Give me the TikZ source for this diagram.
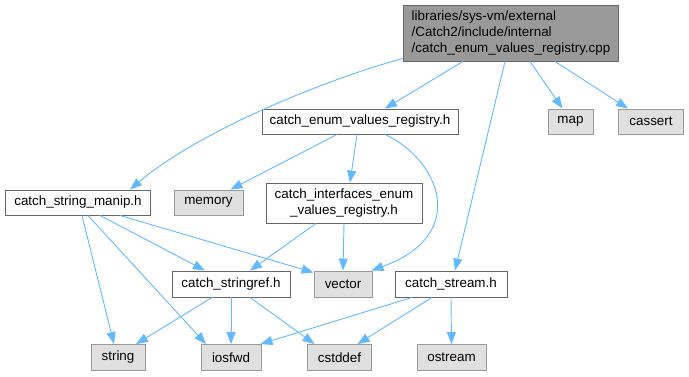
\documentclass[tikz,border=0pt]{standalone}
\usepackage{fontspec}
\setmainfont{Liberation Sans}
\usetikzlibrary{arrows.meta}
\definecolor{edgeblue}{HTML}{63B8FF}
\definecolor{sysfill}{HTML}{E0E0E0}
\definecolor{sysdraw}{HTML}{999999}
\definecolor{mainfill}{HTML}{999999}
\definecolor{maindraw}{HTML}{666666}
\tikzset{
  box/.style={rectangle, draw=maindraw, fill=white, line width=0.9pt, inner sep=0pt,
    minimum height=25pt, font=\fontsize{13.4}{15.8}\selectfont, text=black},
  sysbox/.style={box, draw=sysdraw, fill=sysfill},
  mainbox/.style={box, draw=maindraw, fill=mainfill, align=left},
  dep/.style={draw=edgeblue, line width=0.9pt, -{Triangle[length=12pt,width=9pt]}, fill=none}
}
\begin{document}
\begin{tikzpicture}[x=1pt,y=-1pt]
\useasboundingbox (0,0) rectangle (689,376);

% files
\node[mainbox, minimum width=215pt, minimum height=56pt] (main) at (511,33)
  {libraries/sys-vm/external\\/Catch2/include/internal\\/catch\_enum\_values\_registry.cpp};
\node[box, minimum width=196pt] (cerh) at (360,121.5) {catch\_enum\_values\_registry.h};
\node[sysbox, minimum width=45pt] (map) at (570.5,121.5) {map};
\node[sysbox, minimum width=65pt] (cassert) at (651,121.5) {cassert};
\node[box, minimum width=145pt] (manip) at (78,202.5) {catch\_string\_manip.h};
\node[sysbox, minimum width=69pt] (memory) at (208.5,202.5) {memory};
\node[box, minimum width=156pt, minimum height=40pt, align=center] (iface) at (344,203)
  {catch\_interfaces\_enum\\\_values\_registry.h};
\node[sysbox, minimum width=58pt, minimum height=26pt] (vector) at (343,284) {vector};
\node[box, minimum width=118pt, minimum height=26pt] (sref) at (231,284) {catch\_stringref.h};
\node[box, minimum width=112pt, minimum height=26pt] (stream) at (451,284) {catch\_stream.h};
\node[sysbox, minimum width=54pt, minimum height=26pt] (string) at (118,357.5) {string};
\node[sysbox, minimum width=60pt, minimum height=26pt] (iosfwd) at (231,357.5) {iosfwd};
\node[sysbox, minimum width=64pt, minimum height=26pt] (cstddef) at (339.5,357.5) {cstddef};
\node[sysbox, minimum width=69pt, minimum height=26pt] (ostream) at (451.5,357.5) {ostream};

% includes of the .cpp file
\draw[dep] ([yshift=3pt]main.south west) .. controls (330,78) and (200,130) .. ([xshift=52pt]manip.north);
\draw[dep] ([xshift=-48pt]main.south) -- ([xshift=25pt]cerh.north);
\draw[dep] ([xshift=-6pt]main.south) -- ([xshift=4pt]stream.north);
\draw[dep] ([xshift=19pt]main.south) -- ([xshift=-8pt]map.north);
\draw[dep] ([xshift=44pt]main.south) -- ([xshift=-23pt]cassert.north);

% catch_enum_values_registry.h
\draw[dep] ([xshift=-23pt]cerh.south) -- ([xshift=22pt]memory.north);
\draw[dep] ([xshift=-3pt]cerh.south) -- ([xshift=6pt]iface.north);
\draw[dep] ([xshift=25pt]cerh.south) .. controls (440,160) and (470,235) .. ([xshift=-1pt]vector.north east);

% catch_interfaces_enum_values_registry.h
\draw[dep] (iface.south) -- (vector.north);
\draw[dep] ([xshift=-28pt]iface.south) -- ([xshift=19pt]sref.north);

% catch_string_manip.h
\draw[dep] ([xshift=22pt]manip.south) -- ([xshift=-26pt]sref.north);
\draw[dep] ([xshift=42pt]manip.south) -- ([yshift=-2pt]vector.north west);
\draw[dep] ([xshift=4pt]manip.south) -- ([xshift=-4pt]string.north);
\draw[dep] ([xshift=10pt]manip.south) -- ([xshift=-25pt]iosfwd.north);

% catch_stringref.h
\draw[dep] ([xshift=-19pt]sref.south) -- ([xshift=18pt]string.north);
\draw[dep] (sref.south) -- (iosfwd.north);
\draw[dep] ([xshift=19pt]sref.south) -- ([xshift=-25pt]cstddef.north);

% catch_stream.h
\draw[dep] ([xshift=-39pt]stream.south) -- ([xshift=-1pt]iosfwd.north east);
\draw[dep] ([xshift=-19pt]stream.south) -- ([xshift=18pt]cstddef.north);
\draw[dep] (stream.south) -- (ostream.north);
\end{tikzpicture}
\end{document}
